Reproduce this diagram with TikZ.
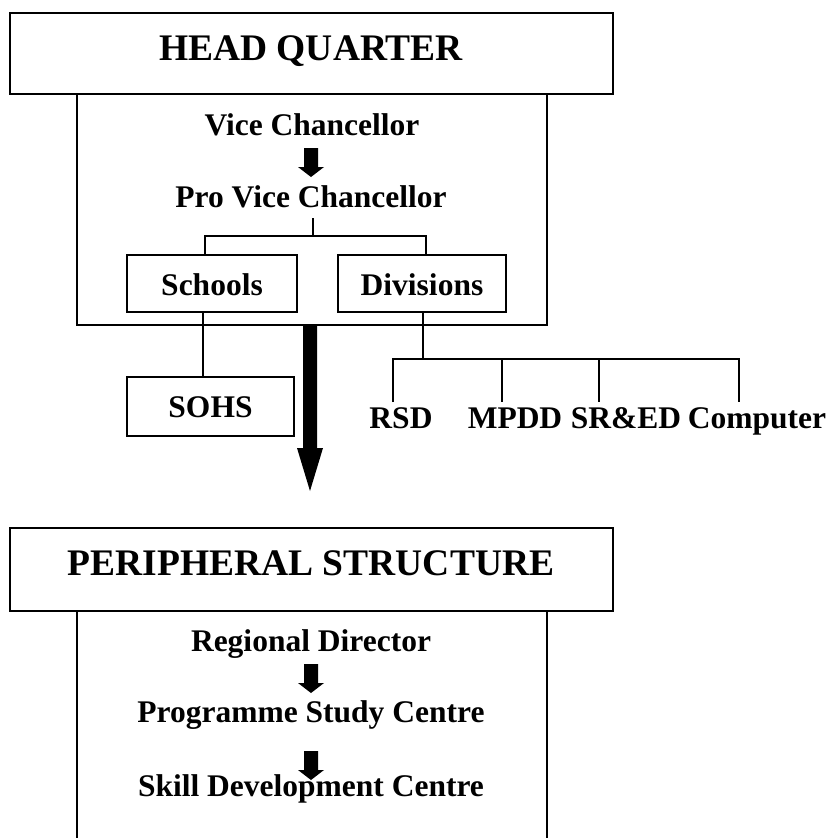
\documentclass[tikz,border=0pt]{standalone}
\usepackage{fontspec}
\setmainfont{Liberation Serif}
\begin{document}
\begin{tikzpicture}[x=1pt,y=-1pt,
  line width=1.5pt,
  frame/.style={draw=black,line width=1.5pt},
  body/.style={font=\fontsize{31.5}{36}\selectfont\bfseries,inner sep=0pt,anchor=base},
  title/.style={font=\fontsize{37.5}{42}\selectfont\bfseries,inner sep=0pt,anchor=base},
  smallarrow/.pic={\fill[black] (-7,0) -- (7,0) -- (7,19) -- (13,19) -- (0,29) -- (-13,19) -- (-7,19) -- cycle;},
  conn/.style={draw=black,line width=1.5pt}
]
\useasboundingbox (0,0) rectangle (829,838);

% ---------- HEAD QUARTER ----------
\draw[frame] (77,94) -- (77,325) -- (547,325) -- (547,94);
\draw[frame,fill=white] (10,13) rectangle (613,94);
\node[title] (hq) at (311,60) {HEAD QUARTER};

\node[body] (vc) at (312,135) {Vice Chancellor};
\pic at (311,148) {smallarrow};
\node[body] (pvc) at (311,207) {Pro Vice Chancellor};

\node[frame,minimum width=170pt,minimum height=57pt,inner sep=0pt] (schools) at (212,283.5) {};
\node[body] at (212,295) {Schools};
\node[frame,minimum width=168pt,minimum height=57pt,inner sep=0pt] (divisions) at (422,283.5) {};
\node[body] at (422,295) {Divisions};

\coordinate (pvcd) at (313,218);
\coordinate (br) at (313,236);
\draw[conn] (pvcd) -- (br);
\draw[conn] (205,255) |- (br) -| (426,255);

% SOHS
\node[frame,minimum width=167pt,minimum height=59pt,inner sep=0pt] (sohs) at (210.5,406.5) {};
\node[body] at (210.5,417) {SOHS};
\draw[conn] (203,312) -- (203,377);

% Divisions branch
\coordinate (dv) at (423,359);
\draw[conn] (423,312) -- (dv);
\draw[conn] (393,402) |- (739,359) -- (739,402);
\draw[conn] (502,359) -- (502,402);
\draw[conn] (599,359) -- (599,402);
\node[body] (rsd) at (401,428) {RSD};
\node[body] (mpdd) at (515,428) {MPDD};
\node[body] (sred) at (626,428) {SR\&ED};
\node[body] (comp) at (757,428) {Computer};

% big arrow
\fill[black] (303,325) -- (317,325) -- (317,448) -- (323,448) -- (310,491) -- (297,448) -- (303,448) -- cycle;

% ---------- PERIPHERAL STRUCTURE ----------
\draw[frame] (77,611) -- (77,840);
\draw[frame] (547,611) -- (547,840);
\draw[frame,fill=white] (10,528) rectangle (613,611);
\node[title] (ps) at (311,575) {PERIPHERAL STRUCTURE};

\node[body] (rd) at (311,651) {Regional Director};
\pic at (311,664) {smallarrow};
\node[body] (psc) at (311,722) {Programme Study Centre};
\pic at (311,751) {smallarrow};
\node[body] (sdc) at (311,796) {Skill Development Centre};
\end{tikzpicture}
\end{document}
